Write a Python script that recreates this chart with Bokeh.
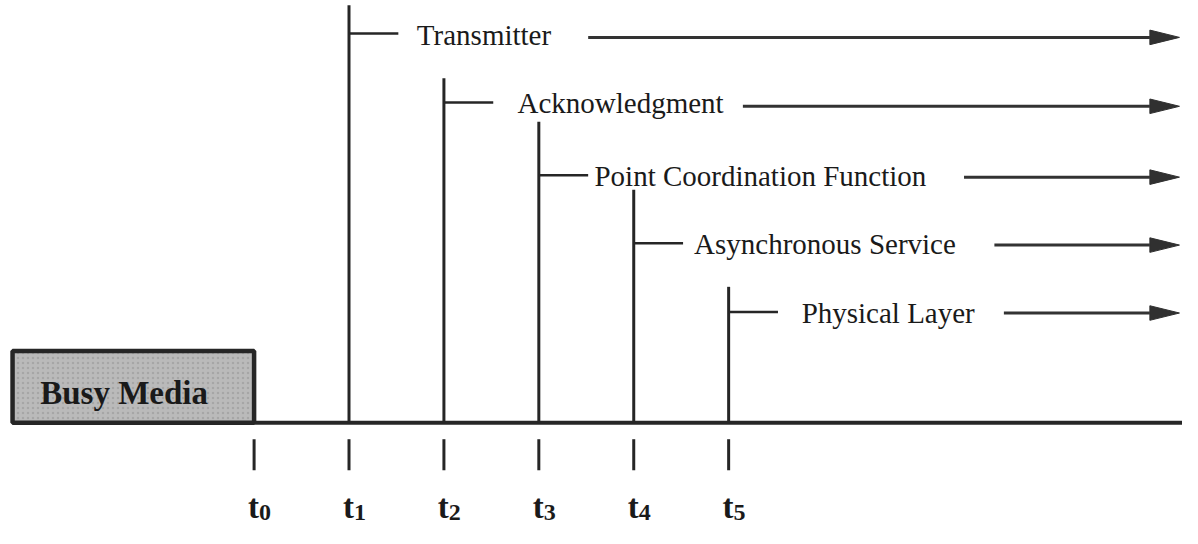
from bokeh.plotting import figure
from bokeh.models import Range1d
from bokeh.core.properties import value
from bokeh.embed import file_html
from bokeh.resources import INLINE

# ---------------- data ----------------
tick_times = [0, 1, 2, 3, 4, 5]
tick_subs = ["0", "1", "2", "3", "4", "5"]
layers = ["Transmitter", "Acknowledgment", "Point Coordination Function",
          "Asynchronous Service", "Physical Layer"]
start_times = [1, 2, 3, 4, 5]
line_tops = [430, 355, 310, 240, 140]      # height of each start marker above the time axis
label_levels = [401, 330, 255, 185, 114]   # height of each label / stub
arrow_levels = [397, 326, 253, 183, 113]   # height of each arrow
busy_end = 0                                # busy media ends at t0
busy_label = "Busy Media"

# ---------------- layout (reference-derived, in time units) ----------------
PX = 96.2                       # pixels per time unit
label_x = [1.715, 2.775, 3.586, 4.636, 5.769]
arrow_x0 = [3.52, 5.15, 7.48, 7.80, 7.90]
arrow_tip = 9.75
busy_start = -2.545
stub_len = 50 / PX

p = figure(width=1182, height=528, output_backend="svg", toolbar_location=None,
           x_range=Range1d(-2.672, 9.782), y_range=Range1d(-109, 435),
           min_border=0, background_fill_color="white", border_fill_color="white")
p.axis.visible = False
p.grid.visible = False
p.outline_line_color = None

DARK = "#262626"
SERIF = value("Liberation Serif")

# busy media box
p.quad(left=[busy_start], right=[busy_end], bottom=[0], top=[74],
       fill_color="#bababa", line_color=DARK, line_width=4.5,
       hatch_pattern="dot", hatch_color="#9c9c9c", hatch_scale=5,
       hatch_weight=1, hatch_alpha=0.7)
p.text(x=[busy_start + 28 / PX], y=[31], text=[busy_label], text_font=SERIF,
       text_font_size="33px", text_font_style="bold", text_color="#1a1a1a",
       text_baseline="middle", text_align="left")

# time axis
p.segment(x0=[busy_end], y0=[0], x1=[9.8], y1=[0], line_color=DARK, line_width=4)

# start markers and stubs
p.segment(x0=start_times, y0=[0] * 5, x1=start_times, y1=line_tops,
          line_color=DARK, line_width=3)
p.segment(x0=start_times, y0=label_levels,
          x1=[t + stub_len for t in start_times], y1=label_levels,
          line_color=DARK, line_width=2.5)

# labels
p.text(x=label_x, y=label_levels, text=layers, text_font=SERIF,
       text_font_size="29px", text_color="#1a1a1a",
       text_baseline="middle", text_align="left", y_offset=1)

# arrows
head_len = 30 / PX
p.segment(x0=arrow_x0, y0=arrow_levels, x1=[arrow_tip - head_len] * 5, y1=arrow_levels,
          line_color="#333333", line_width=3)
xs = [[arrow_tip - head_len, arrow_tip, arrow_tip - head_len] for _ in layers]
ys = [[lv + 7.5, lv, lv - 7.5] for lv in arrow_levels]
p.patches(xs=xs, ys=ys, fill_color="#303030", line_color="#303030", line_width=1)

# tick marks below axis
p.segment(x0=tick_times, y0=[-17] * 6, x1=tick_times, y1=[-49] * 6,
          line_color=DARK, line_width=3)
p.text(x=[t + 5 / PX for t in tick_times], y=[-87] * 6, text=["t"] * 6,
       text_font=SERIF, text_font_size="33px", text_font_style="bold",
       text_color="#1a1a1a", text_baseline="alphabetic", text_align="right")
p.text(x=[t + 5 / PX for t in tick_times], y=[-92] * 6, text=tick_subs,
       text_font=SERIF, text_font_size="24px", text_font_style="bold",
       text_color="#1a1a1a", text_baseline="alphabetic", text_align="left")

open("out.html", "w").write(file_html(p, INLINE))
